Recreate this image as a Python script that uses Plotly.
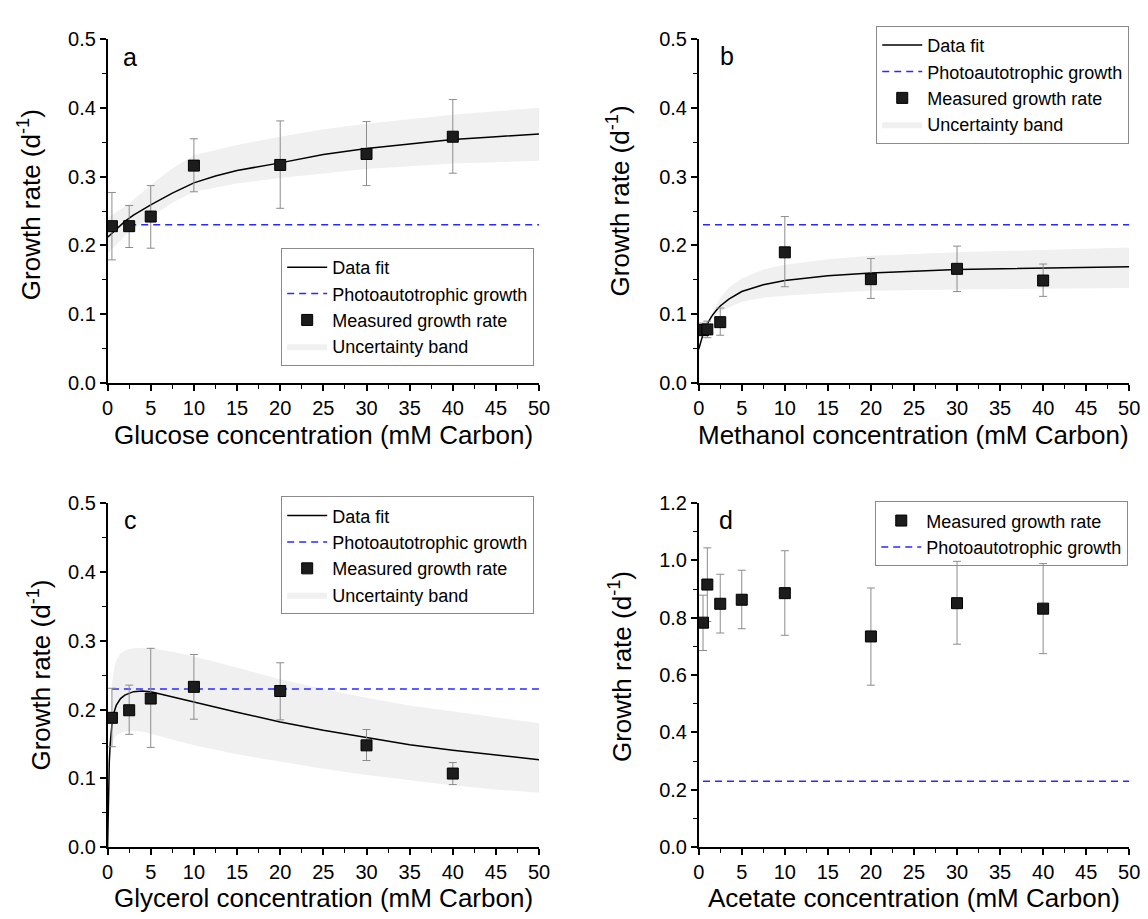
import plotly.graph_objects as go

FONT = "Liberation Sans, Arial, sans-serif"
PHOTO = 0.23

# ---------------- Panel a: glucose ----------------
glu_x = [0.5, 2.5, 5, 10, 20, 30, 40]
glu_y = [0.228, 0.228, 0.242, 0.316, 0.317, 0.333, 0.358]
glu_hi = [0.277, 0.258, 0.287, 0.355, 0.381, 0.380, 0.412]
glu_lo = [0.179, 0.197, 0.196, 0.278, 0.254, 0.287, 0.305]
glu_fit_x = [0, 1, 2, 3, 4, 5, 7.5, 10, 12.5, 15, 20, 25, 30, 35, 40, 45, 50]
glu_fit_y = [0.212, 0.224, 0.235, 0.244, 0.252, 0.259, 0.276, 0.291, 0.301, 0.309,
             0.320, 0.332, 0.341, 0.348, 0.354, 0.358, 0.362]
glu_band_x = [0, 2.5, 5, 7.5, 10, 15, 20, 25, 30, 35, 40, 45, 50]
glu_band_hi = [0.240, 0.261, 0.288, 0.312, 0.331, 0.346, 0.358, 0.369, 0.377, 0.384, 0.390, 0.395, 0.400]
glu_band_lo = [0.188, 0.220, 0.241, 0.262, 0.278, 0.290, 0.298, 0.305, 0.311, 0.315, 0.319, 0.321, 0.323]
glu_photo_x = [2.5, 50]

# ---------------- Panel b: methanol ----------------
met_x = [0.5, 1, 2.5, 10, 20, 30, 40]
met_y = [0.077, 0.078, 0.0885, 0.190, 0.151, 0.166, 0.149]
met_hi = [0.087, 0.090, 0.109, 0.242, 0.181, 0.199, 0.173]
met_lo = [0.069, 0.066, 0.0695, 0.140, 0.123, 0.133, 0.126]
met_fit_x = [0, 0.25, 0.5, 1, 1.5, 2, 2.5, 3.5, 5, 7.5, 10, 15, 20, 30, 40, 50]
met_fit_y = [0.049, 0.061, 0.071, 0.086, 0.097, 0.105, 0.112, 0.122, 0.133, 0.143,
             0.149, 0.156, 0.160, 0.165, 0.167, 0.169]
met_band_x = [1.5, 2, 2.5, 3.5, 5, 7.5, 10, 15, 20, 30, 40, 50]
met_band_hi = [0.100, 0.113, 0.124, 0.139, 0.152, 0.165, 0.172, 0.180, 0.185, 0.190, 0.194, 0.197]
met_band_lo = [0.094, 0.100, 0.104, 0.110, 0.118, 0.124, 0.127, 0.131, 0.134, 0.136, 0.137, 0.138]
met_photo_x = [0.5, 50]

# ---------------- Panel c: glycerol ----------------
gly_x = [0.5, 2.5, 5, 10, 20, 30, 40]
gly_y = [0.188, 0.199, 0.216, 0.233, 0.227, 0.148, 0.107]
gly_hi = [0.231, 0.2355, 0.289, 0.280, 0.268, 0.171, 0.123]
gly_lo = [0.146, 0.164, 0.145, 0.186, 0.185, 0.126, 0.091]
gly_fit_x = [0, 0.1, 0.2, 0.3, 0.5, 0.75, 1, 1.5, 2, 3, 4, 5, 7.5, 10, 15, 20, 25, 30, 35, 40, 45, 50]
gly_fit_y = [0.0, 0.085, 0.125, 0.150, 0.178, 0.196, 0.206, 0.216, 0.221, 0.226, 0.227,
             0.226, 0.219, 0.211, 0.196, 0.182, 0.170, 0.159, 0.149, 0.141, 0.134, 0.127]
gly_band_x = [0.5, 0.75, 1, 1.5, 2, 3, 4, 5, 7.5, 10, 15, 20, 25, 30, 35, 40, 45, 50]
gly_band_hi = [0.236, 0.260, 0.271, 0.282, 0.286, 0.289, 0.290, 0.289, 0.284, 0.277,
               0.261, 0.244, 0.230, 0.217, 0.206, 0.197, 0.188, 0.180]
gly_band_lo = [0.148, 0.158, 0.163, 0.166, 0.168, 0.169, 0.168, 0.165, 0.157, 0.148,
               0.135, 0.124, 0.114, 0.105, 0.097, 0.090, 0.084, 0.079]
gly_photo_x = [0.5, 50]

# ---------------- Panel d: acetate ----------------
ace_x = [0.5, 1, 2.5, 5, 10, 20, 30, 40]
ace_y = [0.783, 0.916, 0.849, 0.863, 0.886, 0.735, 0.851, 0.832]
ace_hi = [0.879, 1.044, 0.952, 0.966, 1.034, 0.904, 0.997, 0.989]
ace_lo = [0.686, 0.787, 0.747, 0.762, 0.739, 0.565, 0.708, 0.675]
ace_photo_x = [0.5, 50]

x_titles = ["Glucose concentration (mM Carbon)", "Methanol concentration (mM Carbon)",
            "Glycerol concentration (mM Carbon)", "Acetate concentration (mM Carbon)"]
panel_letters = ["a", "b", "c", "d"]
y_title = "Growth rate (d<sup>-1</sup>)"

W, H = 1148, 919


def px(x):
    return x / W


def py(y):
    return 1 - y / H


fig = go.Figure()

BAND_COLOR = "#f0f0f0"
PHOTO_COLOR = "#2a2aff"
ERR_COLOR = "#8c8c8c"


def add_band(bx, lo, hi, xa, ya, leg):
    fig.add_trace(go.Scatter(x=bx, y=lo, mode="lines", line=dict(width=0, color=BAND_COLOR),
                             showlegend=False, xaxis=xa, yaxis=ya, hoverinfo="skip"))
    fig.add_trace(go.Scatter(x=bx, y=hi, mode="lines", line=dict(width=0, color=BAND_COLOR),
                             fill="tonexty", fillcolor=BAND_COLOR, name="Uncertainty band",
                             legend=leg, legendrank=4, xaxis=xa, yaxis=ya))


def add_fit(fx, fy, xa, ya, leg):
    fig.add_trace(go.Scatter(x=fx, y=fy, mode="lines", line=dict(color="black", width=1.5),
                             name="Data fit", legend=leg, legendrank=1, xaxis=xa, yaxis=ya))


def add_photo(phx, xa, ya, leg, rank):
    fig.add_trace(go.Scatter(x=phx, y=[PHOTO] * len(phx), mode="lines",
                             line=dict(color=PHOTO_COLOR, width=1.5, dash="7px,5px"),
                             name="Photoautotrophic growth", legend=leg, legendrank=rank,
                             xaxis=xa, yaxis=ya))


def add_points(x, y, hi, lo, xa, ya, leg, rank):
    fig.add_trace(go.Scatter(
        x=x, y=y, mode="markers",
        marker=dict(symbol="square", size=11, color="#1c1c1c", line=dict(color="black", width=1)),
        error_y=dict(type="data", symmetric=False,
                     array=[h - v for h, v in zip(hi, y)],
                     arrayminus=[v - l for v, l in zip(y, lo)],
                     color=ERR_COLOR, thickness=1, width=4),
        name="Measured growth rate", legend=leg, legendrank=rank, xaxis=xa, yaxis=ya))


# panel a
add_band(glu_band_x, glu_band_lo, glu_band_hi, "x", "y", "legend")
add_fit(glu_fit_x, glu_fit_y, "x", "y", "legend")
add_photo(glu_photo_x, "x", "y", "legend", 2)
add_points(glu_x, glu_y, glu_hi, glu_lo, "x", "y", "legend", 3)
# panel b
add_band(met_band_x, met_band_lo, met_band_hi, "x2", "y2", "legend2")
add_fit(met_fit_x, met_fit_y, "x2", "y2", "legend2")
add_photo(met_photo_x, "x2", "y2", "legend2", 2)
add_points(met_x, met_y, met_hi, met_lo, "x2", "y2", "legend2", 3)
# panel c
add_band(gly_band_x, gly_band_lo, gly_band_hi, "x3", "y3", "legend3")
add_fit(gly_fit_x, gly_fit_y, "x3", "y3", "legend3")
add_photo(gly_photo_x, "x3", "y3", "legend3", 2)
add_points(gly_x, gly_y, gly_hi, gly_lo, "x3", "y3", "legend3", 3)
# panel d
add_photo(ace_photo_x, "x4", "y4", "legend4", 2)
add_points(ace_x, ace_y, ace_hi, ace_lo, "x4", "y4", "legend4", 1)

left_dom = [px(95), px(533)]
right_dom = [px(695), px(1132)]
top_dom = [py(373), py(20.5)]
bot_dom = [py(848.5), py(496)]

tickfont = dict(family=FONT, size=20, color="black")


def xaxis(dom, anchor):
    return dict(domain=dom, anchor=anchor, range=[0, 50], tick0=0, dtick=5,
                showline=True, linecolor="black", linewidth=1.5, showgrid=False, zeroline=False,
                ticks="outside", ticklen=6, tickwidth=1.5, tickcolor="black", tickfont=tickfont,
                minor=dict(dtick=2.5, ticks="outside", ticklen=4, tickwidth=1.2, tickcolor="black",
                           showgrid=False))


def yaxis(dom, anchor, top, dt):
    return dict(domain=dom, anchor=anchor, range=[0, top], tick0=0, dtick=dt, tickformat=".1f",
                showline=True, linecolor="black", linewidth=1.5, showgrid=False, zeroline=False,
                ticks="outside", ticklen=6, tickwidth=1.5, tickcolor="black", tickfont=tickfont,
                minor=dict(dtick=dt / 2, ticks="outside", ticklen=4, tickwidth=1.2, tickcolor="black",
                           showgrid=False))


def legend(xr, ymid):
    return dict(x=px(xr), y=py(ymid), xanchor="right", yanchor="middle",
                bgcolor="rgba(255,255,255,0)", traceorder="normal",
                bordercolor="#8a8a8a", borderwidth=1, itemwidth=40, tracegroupgap=0,
                font=dict(family=FONT, size=18, color="black"))


annotations = []
x_title_pos = [(314, 426), (913.5, 426), (314, 901), (913.5, 901)]
y_title_pos = [(16, 190), (614, 186), (26, 672), (615, 663)]
letter_pos = [(118, 39), (724, 38), (118, 513), (723, 513)]
for i in range(4):
    annotations.append(dict(text=x_titles[i], x=px(x_title_pos[i][0]), y=py(x_title_pos[i][1]),
                            xref="paper", yref="paper", showarrow=False, xanchor="center",
                            yanchor="middle", font=dict(family=FONT, size=26, color="black")))
    annotations.append(dict(text=y_title, x=px(y_title_pos[i][0]), y=py(y_title_pos[i][1]),
                            xref="paper", yref="paper", showarrow=False, xanchor="center",
                            yanchor="middle", textangle=-90,
                            font=dict(family=FONT, size=26, color="black")))
    annotations.append(dict(text=panel_letters[i], x=px(letter_pos[i][0]), y=py(letter_pos[i][1]),
                            xref="paper", yref="paper", showarrow=False, xanchor="center",
                            yanchor="middle", font=dict(family=FONT, size=25, color="black")))

fig.update_layout(
    width=W, height=H, margin=dict(l=0, r=0, t=0, b=0),
    paper_bgcolor="white", plot_bgcolor="white",
    font=dict(family=FONT, color="black"),
    xaxis=xaxis(left_dom, "y"), yaxis=yaxis(top_dom, "x", 0.5, 0.1),
    xaxis2=xaxis(right_dom, "y2"), yaxis2=yaxis(top_dom, "x2", 0.5, 0.1),
    xaxis3=xaxis(left_dom, "y3"), yaxis3=yaxis(bot_dom, "x3", 0.5, 0.1),
    xaxis4=xaxis(right_dom, "y4"), yaxis4=yaxis(bot_dom, "x4", 1.2, 0.2),
    legend=legend(528, 295), legend2=legend(1132, 67.5),
    legend3=legend(528, 549.5), legend4=legend(1131, 527.5),
    annotations=annotations,
)

fig.write_html("out.html")
